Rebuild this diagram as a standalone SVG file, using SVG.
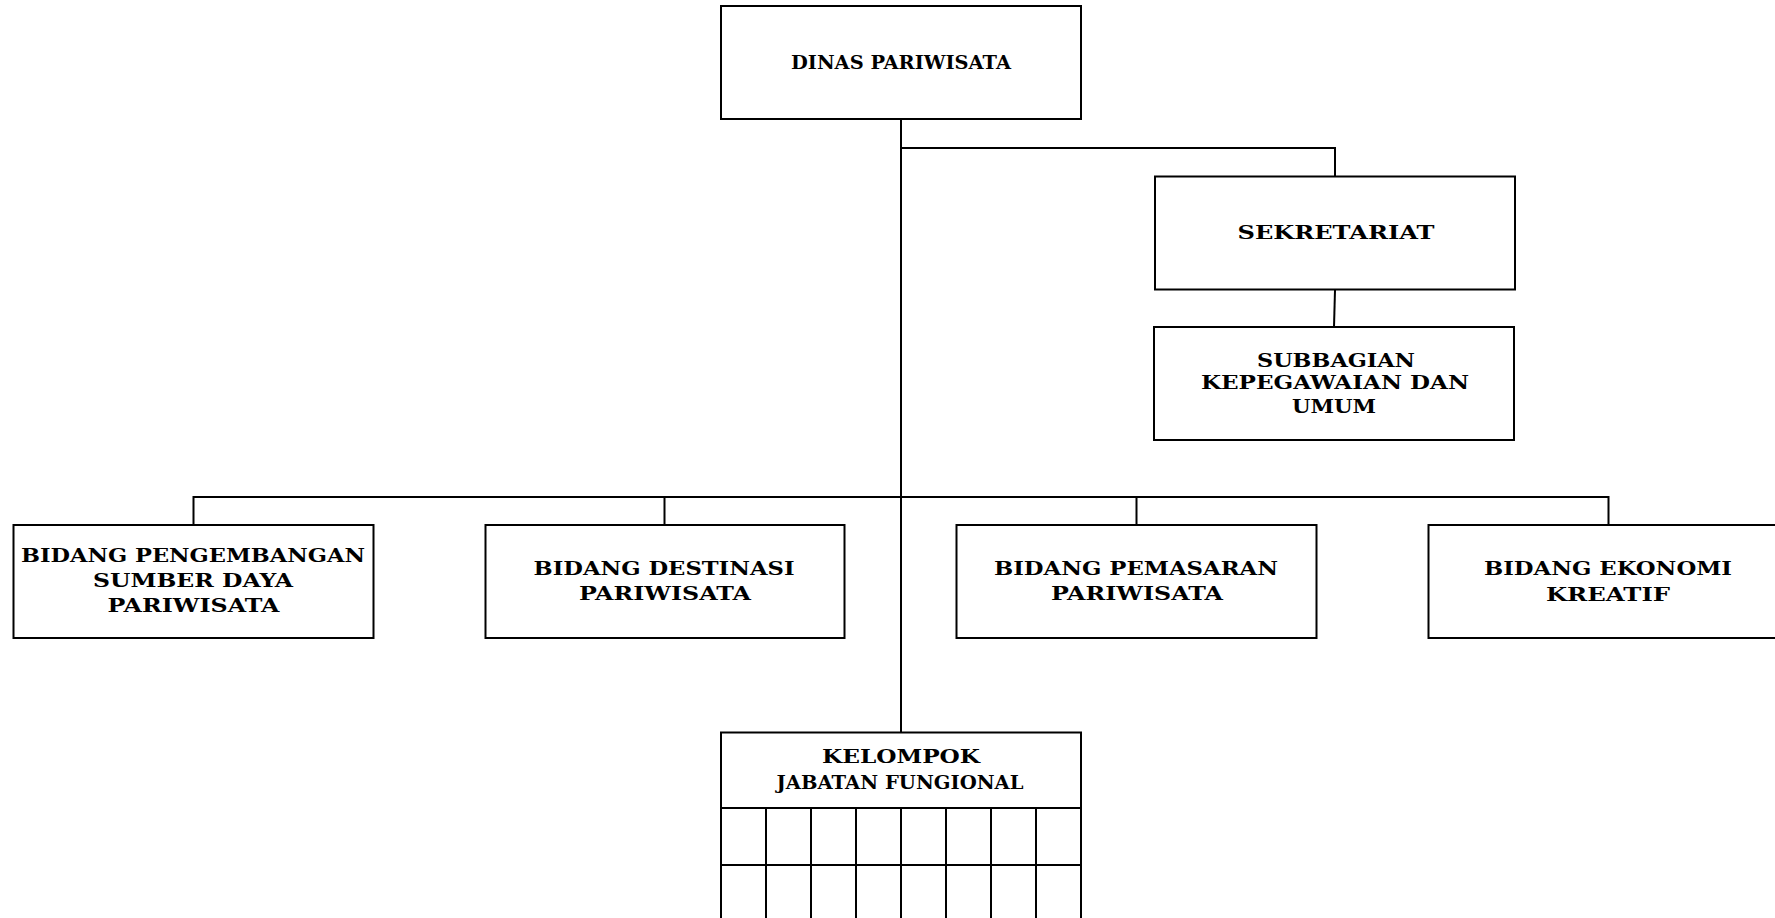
<svg xmlns="http://www.w3.org/2000/svg" width="1775" height="918" viewBox="0 0 1775 918">
<style>
.box{fill:#fff;stroke:#000;stroke-width:2}
.ln{stroke:#000;stroke-width:2;fill:none}
.t{font-family:"DejaVu Serif","Liberation Serif",serif;font-weight:bold;font-size:18.5px;fill:#000;text-anchor:middle}
</style>
<rect width="1775" height="918" fill="#fff"/>
<g id="connectors">
<path class="ln" d="M901 119V733"/>
<path class="ln" d="M901 148H1335V176"/>
<path class="ln" d="M1335 290L1334 327"/>
<path class="ln" d="M193.5 525V497H1608.5V525"/>
<path class="ln" d="M664.5 497V525"/>
<path class="ln" d="M1136.5 497V525"/>
</g>
<g id="dinas">
<rect class="box" x="721" y="6" width="360" height="113"/>
<text class="t" x="901" y="69" textLength="220" lengthAdjust="spacingAndGlyphs">DINAS PARIWISATA</text>
</g>
<g id="sekretariat">
<rect class="box" x="1155" y="176.5" width="360" height="113"/>
<text class="t" x="1336" y="239" textLength="197" lengthAdjust="spacingAndGlyphs">SEKRETARIAT</text>
</g>
<g id="subbagian">
<rect class="box" x="1154" y="327" width="360" height="113"/>
<text class="t" x="1336" y="366.5" textLength="158" lengthAdjust="spacingAndGlyphs">SUBBAGIAN</text>
<text class="t" x="1335" y="389" textLength="268" lengthAdjust="spacingAndGlyphs">KEPEGAWAIAN DAN</text>
<text class="t" x="1334" y="412.5" textLength="84" lengthAdjust="spacingAndGlyphs">UMUM</text>
</g>
<g id="bidang-psdp">
<rect class="box" x="13.5" y="525" width="360" height="113"/>
<text class="t" x="193" y="562" textLength="344" lengthAdjust="spacingAndGlyphs">BIDANG PENGEMBANGAN</text>
<text class="t" x="193" y="587" textLength="200" lengthAdjust="spacingAndGlyphs">SUMBER DAYA</text>
<text class="t" x="193.5" y="612" textLength="172" lengthAdjust="spacingAndGlyphs">PARIWISATA</text>
</g>
<g id="bidang-destinasi">
<rect class="box" x="485.5" y="525" width="359" height="113"/>
<text class="t" x="664" y="575" textLength="261" lengthAdjust="spacingAndGlyphs">BIDANG DESTINASI</text>
<text class="t" x="665" y="600" textLength="172" lengthAdjust="spacingAndGlyphs">PARIWISATA</text>
</g>
<g id="bidang-pemasaran">
<rect class="box" x="956.5" y="525" width="360" height="113"/>
<text class="t" x="1136" y="575" textLength="284" lengthAdjust="spacingAndGlyphs">BIDANG PEMASARAN</text>
<text class="t" x="1137" y="600" textLength="172" lengthAdjust="spacingAndGlyphs">PARIWISATA</text>
</g>
<g id="bidang-ekonomi">
<rect class="box" x="1428.5" y="525" width="362" height="113"/>
<text class="t" x="1608" y="575" textLength="248" lengthAdjust="spacingAndGlyphs">BIDANG EKONOMI</text>
<text class="t" x="1608" y="601" textLength="124" lengthAdjust="spacingAndGlyphs">KREATIF</text>
</g>
<g id="kelompok">
<rect class="box" x="721" y="732.5" width="360" height="200"/>
<path class="ln" d="M721 808H1081M721 865H1081"/>
<path class="ln" d="M766 808V930M811 808V930M856 808V930M901 808V930M946 808V930M991 808V930M1036 808V930"/>
<text class="t" x="901" y="763" textLength="158" lengthAdjust="spacingAndGlyphs">KELOMPOK</text>
<text class="t" x="900" y="789" textLength="247" lengthAdjust="spacingAndGlyphs">JABATAN FUNGIONAL</text>
</g>
</svg>
